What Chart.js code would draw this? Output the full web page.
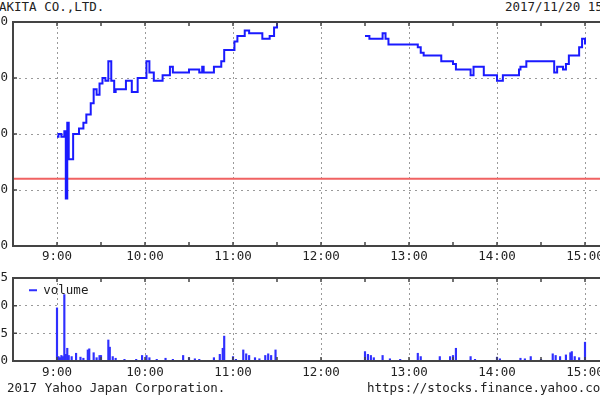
<!DOCTYPE html>
<html>
<head>
<meta charset="utf-8">
<script src="https://cdn.jsdelivr.net/npm/chart.js@4.4.1/dist/chart.umd.min.js"></script>
<style>
html, body { margin: 0; padding: 0; background: #fff; }
#wrap { position: relative; width: 600px; height: 400px; overflow: hidden;
  font-family: "DejaVu Sans Mono", monospace; font-size: 12.5px; color: #222; }
#wrap canvas { position: absolute; }
#priceChart { left: -37px; top: 0; }
#volumeChart { left: -37px; top: 262px; }
.txt { position: absolute; white-space: nowrap; line-height: 14px; }
</style>
</head>
<body>
<div id="wrap">
  <div class="txt" style="left:-1px;top:0">AKITA CO.,LTD.</div>
  <div class="txt" style="left:505px;top:0">2017/11/20 15:00</div>
  <canvas id="priceChart" width="680" height="270"></canvas>
  <canvas id="volumeChart" width="680" height="119"></canvas>
  <div class="txt" style="left:7px;top:381px">2017 Yahoo Japan Corporation.</div>
  <div class="txt" style="left:367px;top:381px">https://stocks.finance.yahoo.co.jp/</div>
</div>
<script>
// price (stepped), null = lunch break
var priceTimes = ["9:00","9:01","9:03","9:05","9:06","9:07","9:08","9:11","9:15","9:18","9:20","9:23","9:25","9:27","9:29","9:31","9:33","9:35","9:37","9:39","9:40","9:47","9:51","9:55","10:01","10:03","10:06","10:12","10:17","10:19","10:30","10:37","10:39","10:40","10:47","10:52","10:54","11:01","11:03","11:08","11:11","11:20","11:25","11:28","11:30",
  "12:00",
  "12:30","12:33","12:42","12:44","12:46","13:06","13:08","13:10","13:22","13:30","13:32","13:42","13:44","13:51","14:00","14:04","14:15","14:16","14:20","14:39","14:41","14:45","14:47","14:49","14:56","14:58","15:00"];
var priceValues = [1979,1980,1979,1981,1957,1984,1971,1980,1982,1984,1987,1991,1996,1994,1998,2000,1999,2006,1999,1995,1996,1999,1995,2000,2006,2002,1999,2001,2004,2002,2003,2002,2004,2002,2004,2006,2010,2013,2015,2017,2016,2014,2015,2018,2021,
  null,
  2015,2014,2016,2014,2012,2011,2009,2008,2006,2005,2003,2001,2004,2001,1999,2001,2003,2004,2006,2002,2004,2003,2005,2008,2011,2014,2012];
var prevClose = 1964;

var volumeTimes = ["9:00","9:01","9:02","9:03","9:04","9:05","9:06","9:07","9:08","9:10","9:13","9:16","9:18","9:21","9:22","9:25","9:27","9:29","9:30","9:35","9:36","9:38","9:40","9:46","9:54","9:58","10:01","10:03","10:08","10:14","10:19","10:26","10:30","10:34","10:37","10:47","10:51","10:53","10:54","11:00","11:02","11:07","11:09","11:11","11:15","11:18","11:22","11:24","11:26","11:29",
  "12:30","12:32","12:34","12:36","12:42","12:47","12:54","13:06","13:08","13:21","13:28","13:30","13:32","13:42","13:45","14:00","14:02","14:16","14:19","14:23","14:30","14:38","14:40","14:43","14:47","14:50","14:51","14:53","14:56","15:00"];
var volumeValues = [9.6,0.8,0.6,1,0.8,12,1.2,2.3,1,0.8,1.4,0.7,0.5,2,2.2,1.5,0.6,1,1,3.8,2.5,0.8,0.5,0.3,0.3,1,1,0.6,0.3,0.5,0.3,1,0.6,0.4,0.3,0.6,1.2,2.3,4.5,0.8,0.3,2,1.3,1,0.6,0.4,1,1.3,1,2,
  1.7,1.2,1,0.6,1,0.4,0.3,1.4,0.8,0.8,0.8,1,2.3,0.8,0.3,0.7,0.4,0.5,0.4,0.8,0.3,1.3,1,0.8,1.1,1.5,1.7,0.8,0.6,3.4];

var axisStart = "8:30", axisEnd = "15:30";
var priceTicks = [1940, 2020, 20];
var volumeTicks = [0, 15, 5];

// minutes after 9:00
function toMin(s) {
  var p = s.split(":");
  return Number(p[0]) * 60 + Number(p[1]) - 540;
}
function fmt(m) {
  var t = m + 540;
  return Math.floor(t / 60) + ":" + String(t % 60).padStart(2, "0");
}

var monoFont = { family: "DejaVu Sans Mono", size: 12.5 };
var dotted = "#9a9a9a";

var frame = {
  id: "frame",
  afterDatasetsDraw: function (chart) {
    var ctx = chart.ctx, a = chart.chartArea, sx = chart.scales.x, sy = chart.scales.y;
    ctx.save();
    ctx.strokeStyle = "#444";
    ctx.lineWidth = 1.5;
    ctx.beginPath();
    sx.ticks.forEach(function (t) {
      var px = sx.getPixelForValue(t.value);
      ctx.moveTo(px, a.top); ctx.lineTo(px, a.top + 4);
      ctx.moveTo(px, a.bottom); ctx.lineTo(px, a.bottom - 4);
    });
    sy.ticks.forEach(function (t) {
      var py = sy.getPixelForValue(t.value);
      ctx.moveTo(a.left, py); ctx.lineTo(a.left + 4, py);
    });
    ctx.stroke();
    ctx.lineWidth = 2;
    ctx.strokeRect(a.left, a.top, a.right - a.left, a.bottom - a.top);
    ctx.restore();
  }
};

var legendShift = {
  id: "legendShift",
  afterLayout: function (chart) {
    if (chart.legend) {
      chart.legend.left = chart.chartArea.left + 10;
      chart.legend.top = chart.chartArea.top;
    }
  }
};

function xScale(labelPad, height) {
  return {
    type: "linear",
    min: toMin(axisStart),
    max: toMin(axisEnd),
    offset: false,
    afterFit: function (s) { s.height = height; },
    ticks: {
      stepSize: 30, autoSkip: false, maxRotation: 0, padding: labelPad,
      font: monoFont, color: "#222",
      callback: function (v) { return v % 60 === 0 ? fmt(v) : ""; }
    },
    grid: {
      offset: false, drawTicks: false, lineWidth: 1,
      color: function (c) { return c.tick && c.tick.value % 60 === 0 ? dotted : "transparent"; }
    },
    border: { display: false, dash: [2, 3] }
  };
}

function yScale(t) {
  return {
    min: t[0], max: t[1],
    afterFit: function (s) { s.width = 50; },
    ticks: {
      stepSize: t[2], padding: 5, font: monoFont, color: "#222",
      callback: function (v) { return String(v); }
    },
    grid: { drawTicks: false, color: dotted, lineWidth: 1 },
    border: { display: false, dash: [2, 4] }
  };
}

new Chart(document.getElementById("priceChart"), {
  type: "line",
  data: {
    datasets: [
      {
        label: "price",
        data: priceTimes.map(function (t, i) { return { x: toMin(t), y: priceValues[i] }; }),
        borderColor: "#1a1aff",
        borderWidth: 2,
        stepped: true,
        pointRadius: 0,
        spanGaps: false
      },
      {
        label: "previous close",
        data: [{ x: toMin(axisStart), y: prevClose }, { x: toMin(axisEnd), y: prevClose }],
        borderColor: "#f06262",
        borderWidth: 2,
        pointRadius: 0
      }
    ]
  },
  options: {
    responsive: false,
    animation: false,
    devicePixelRatio: 1,
    layout: { padding: { top: 22, right: 14, left: 0, bottom: 0 } },
    plugins: { legend: { display: false }, tooltip: { enabled: false } },
    scales: { x: xScale(3, 24), y: yScale(priceTicks) }
  },
  plugins: [frame]
});

new Chart(document.getElementById("volumeChart"), {
  type: "bar",
  data: {
    datasets: [{
      label: "volume",
      data: volumeTimes.map(function (t, i) { return { x: toMin(t), y: volumeValues[i] }; }),
      backgroundColor: "#2f2fff",
      barThickness: 1.5
    }]
  },
  options: {
    responsive: false,
    animation: false,
    devicePixelRatio: 1,
    layout: { padding: { top: 16, right: 14, left: 0, bottom: 0 } },
    plugins: {
      tooltip: { enabled: false },
      legend: {
        position: "chartArea",
        align: "start",
        labels: {
          usePointStyle: true, pointStyle: "line", pointStyleWidth: 8, padding: 6,
          font: monoFont, color: "#222",
          generateLabels: function (c) {
            return Chart.defaults.plugins.legend.labels.generateLabels(c).map(function (l) {
              l.lineWidth = 2; l.strokeStyle = "#2f2fff"; l.pointStyle = "line";
              return l;
            });
          }
        }
      }
    },
    scales: { x: xScale(4, 20), y: yScale(volumeTicks) }
  },
  plugins: [frame, legendShift]
});
</script>
</body>
</html>
